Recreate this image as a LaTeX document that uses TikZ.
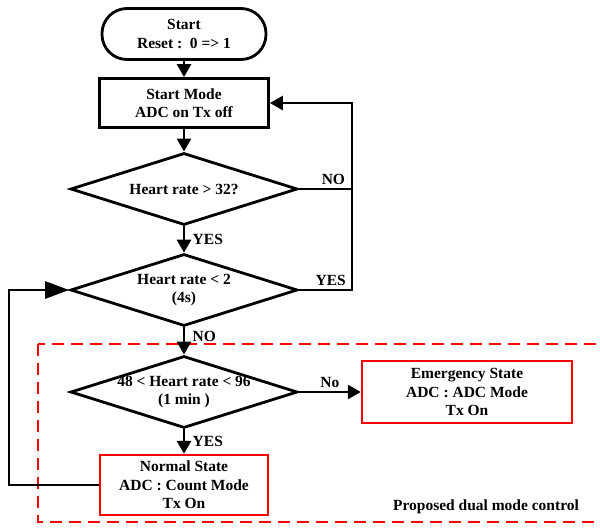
\documentclass[tikz,border=0pt]{standalone}
\usepackage{fontspec}
\setmainfont{Liberation Serif}
\usepackage{tikz}
\usetikzlibrary{shapes,arrows}
\usetikzlibrary{arrows.meta}
\tikzset{
  every node/.style={font=\fontsize{15.5}{18.5}\selectfont\bfseries, align=center},
  line/.style={draw, line width=2.8pt},
  flow/.style={line, -{Triangle[length=13pt,width=14pt]}},
  terminal/.style={rectangle, draw, line width=2.8pt, rounded corners=25pt, minimum width=164pt, minimum height=51pt, inner sep=0pt},
  process/.style={rectangle, draw, line width=2.8pt, minimum width=169pt, minimum height=49pt, inner sep=0pt},
  decision/.style={diamond, draw, line width=2.8pt, aspect=3.15, minimum width=227pt, minimum height=72pt, inner sep=-3pt},
  statebox/.style={rectangle, draw=red, line width=2.4pt, inner sep=0pt},
  region/.style={draw=red, line width=1.7pt, dash pattern=on 12pt off 7pt}
}
\newcommand{\fcterminal}[3] {\node at (#1) (#2) [terminal] {#3};}
\newcommand{\fcprocess}[3] {\node at (#1) (#2) [process] {#3};}
\newcommand{\fcdecision}[3] {\node at (#1) (#2) [decision] {#3};}
\newcommand{\fcstate}[5] {\node at (#1) (#2) [statebox, minimum width=#3, minimum height=#4] {#5};}
\newcommand{\fcflow}[4] {\draw [flow] (#1) -- (#2) node [#3] {#4};}

\begin{document}
\begin{tikzpicture}[x=1pt, y=-1pt]
\useasboundingbox (0,0) rectangle (600,528);
\draw [region] (38,344) rectangle (614,522);
\node at (486,507) (dualcaption) {Proposed dual mode control};

\fcterminal {184,34} {start} {Start\\Reset :\enspace 0 => 1};
\fcprocess {184,103} {startmode} {Start Mode\\ADC on Tx off};
\fcdecision {184,189} {hrhigh} {Heart rate > 32?};
\fcdecision {184,290} {hrlow} {Heart rate < 2\\(4s)};
\fcdecision {184,392} {hrrange} {48 < Heart rate < 96\\(1 min )};
\fcstate {467,392} {emergency} {210pt} {62pt} {Emergency State\\ADC : ADC Mode\\Tx On};
\fcstate {184,485} {normal} {168pt} {60pt} {Normal State\\ADC : Count Mode\\Tx On};

\coordinate (loopR) at (352,189);
\coordinate (loopL) at (9,290);

\fcflow{start}{startmode}{}{};
\fcflow{startmode}{hrhigh}{}{};
\fcflow{hrhigh}{hrlow}{midway, right=4pt}{YES};
\fcflow{hrlow}{hrrange}{pos=0.35, right=4pt}{NO};
\fcflow{hrrange}{normal}{midway, right=4pt}{YES};
\fcflow{hrrange}{emergency}{midway, above}{No};

% loops back to the start mode and to the second check
\draw [line] (hrhigh.east) -- (loopR) node [pos=0.65, above] {NO};
\draw [flow] (hrlow.east) -| (loopR) node [pos=0.3, above] {YES} |- (startmode.east);
\draw [flow, -{Triangle[length=24pt,width=17pt]}] (normal.west) -| (loopL) |- (hrlow.west);
\end{tikzpicture}
\end{document}
